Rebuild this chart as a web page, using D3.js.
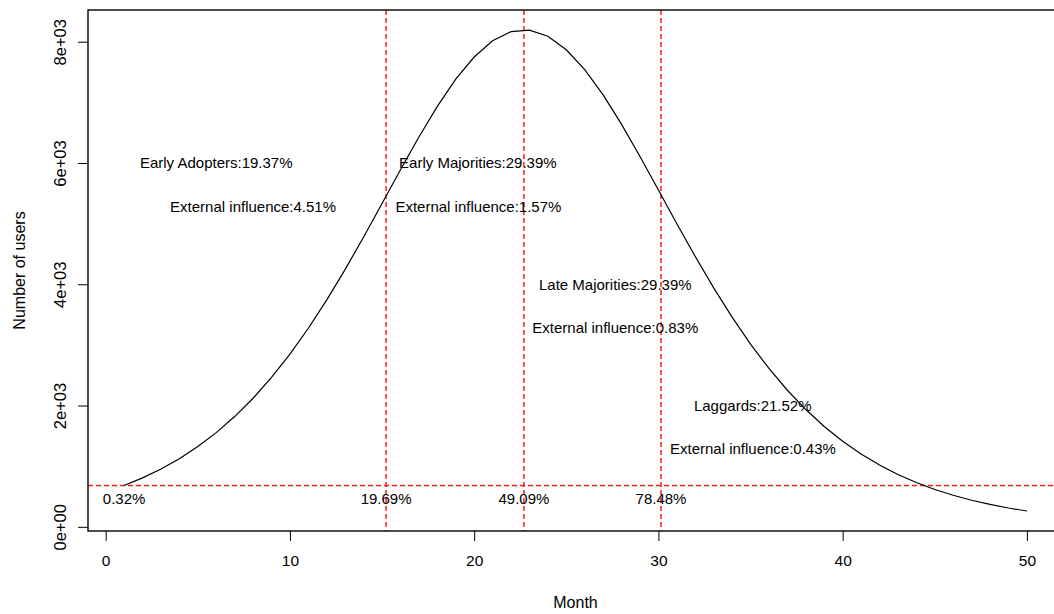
<!DOCTYPE html>
<html lang="en">
<head>
<meta charset="UTF-8">
<title>Number of users by month</title>
<script src="https://cdn.jsdelivr.net/npm/d3@7"></script>
<style>
    body { margin: 0; background: #fff; }
    svg text { font-family: "Liberation Sans", Arial, sans-serif; fill: #000; }
    .tag { font-size: 15px; }
    .tick text { font-size: 15.5px; }
    .ytick text { font-size: 16.5px; }
    .axisTitle { font-size: 16px; }
</style>
</head>
<body>
<svg width="1054" height="614"></svg>
<script>
    // monthly adopters
    const months = d3.range(1, 51);
    const users = [682, 807, 953, 1124, 1323, 1553, 1818, 2120, 2463, 2848,
        3275, 3743, 4246, 4780, 5331, 5889, 6429, 6934, 7382, 7748,
        8015, 8166, 8191, 8090, 7868, 7539, 7122, 6637, 6107, 5555,
        4999, 4457, 3940, 3457, 3013, 2612, 2252, 1934, 1654, 1411,
        1200, 1019, 863, 730, 616, 520, 438, 369, 310, 261];

    const xTicks = [0, 10, 20, 30, 40, 50];
    const yTicks = [0, 2000, 4000, 6000, 8000];
    const yTickLabels = ["0e+00", "2e+03", "4e+03", "6e+03", "8e+03"];

    // split points between adopter groups
    const splitMonths = [15.22, 22.70, 30.14];
    const baseLevel = 682;

    // cumulative share at the start of each group
    const cumLabels = ["0.32%", "19.69%", "49.09%", "78.48%"];
    const cumX = [1, 15.22, 22.70, 30.14];
    const cumY = 470;

    const groupLabels = ["Early Adopters:19.37%", "Early Majorities:29.39%", "Late Majorities:29.39%", "Laggards:21.52%"];
    const groupX = [6, 20.2, 27.66, 35.12];
    const groupY = [6000, 6000, 4000, 2000];

    const influenceLabels = ["External influence:4.51%", "External influence:1.57%", "External influence:0.83%", "External influence:0.43%"];
    const influenceX = [8, 20.23, 27.66, 35.13];
    const influenceY = [5280, 5280, 3280, 1280];

    const plotLeft = 88, plotRight = 1063, plotTop = 10, plotBottom = 531;

    const x = d3.scaleLinear().domain([-0.96, 51.96]).range([plotLeft, plotRight]);
    const y = d3.scaleLinear().domain([-69, 8523]).range([plotBottom, plotTop]);

    const svg = d3.select("svg");

    // x axis
    const xAxis = svg.append("g")
        .attr("transform", `translate(0,${plotBottom})`)
        .call(d3.axisBottom(x).tickValues(xTicks).tickSize(10).tickPadding(14).tickSizeOuter(0));
    xAxis.select(".domain").remove();
    xAxis.selectAll("line").attr("stroke", "#000");

    // y axis, labels turned like R does
    const yAxis = svg.append("g")
        .attr("class", "ytick")
        .attr("transform", `translate(${plotLeft},0)`)
        .call(d3.axisLeft(y).tickValues(yTicks).tickFormat((d, i) => yTickLabels[i]).tickSize(10).tickSizeOuter(0));
    yAxis.select(".domain").remove();
    yAxis.selectAll("line").attr("stroke", "#000");
    yAxis.selectAll("text")
        .attr("x", 0)
        .attr("y", -22.3)
        .attr("dy", null)
        .attr("text-anchor", "middle")
        .attr("transform", "rotate(-90)");

    // reference lines
    svg.selectAll(".vline")
        .data(splitMonths)
        .enter()
        .append("line")
        .attr("x1", d => x(d)).attr("x2", d => x(d))
        .attr("y1", plotTop).attr("y2", plotBottom)
        .attr("stroke", "#ff1a1a")
        .attr("stroke-width", 1.5)
        .attr("stroke-dasharray", "5,3");

    svg.append("line")
        .attr("x1", plotLeft).attr("x2", plotRight)
        .attr("y1", y(baseLevel)).attr("y2", y(baseLevel))
        .attr("stroke", "#ff1a1a")
        .attr("stroke-width", 1.5)
        .attr("stroke-dasharray", "5,3");

    // adoption curve
    const line = d3.line()
        .x((d, i) => x(months[i]))
        .y(d => y(d));

    svg.append("path")
        .datum(users)
        .attr("d", line)
        .attr("fill", "none")
        .attr("stroke", "#000")
        .attr("stroke-width", 1.2);

    // annotations
    const addTags = (labels, xs, ys) => {
        svg.selectAll(null)
            .data(labels)
            .enter()
            .append("text")
            .attr("class", "tag")
            .attr("x", (d, i) => x(xs[i]))
            .attr("y", (d, i) => y(Array.isArray(ys) ? ys[i] : ys))
            .attr("dy", "0.35em")
            .attr("text-anchor", "middle")
            .text(d => d);
    };
    addTags(groupLabels, groupX, groupY);
    addTags(influenceLabels, influenceX, influenceY);
    addTags(cumLabels, cumX, cumY);

    // plot box
    svg.append("rect")
        .attr("x", plotLeft).attr("y", plotTop)
        .attr("width", plotRight - plotLeft).attr("height", plotBottom - plotTop)
        .attr("fill", "none")
        .attr("stroke", "#000")
        .attr("stroke-width", 1.4);

    // axis titles
    svg.append("text")
        .attr("class", "axisTitle")
        .attr("x", (plotLeft + plotRight) / 2)
        .attr("y", 608)
        .attr("text-anchor", "middle")
        .text("Month");

    svg.append("text")
        .attr("class", "axisTitle")
        .attr("transform", `translate(25,${(plotTop + plotBottom) / 2}) rotate(-90)`)
        .attr("text-anchor", "middle")
        .text("Number of users");
</script>
</body>
</html>
